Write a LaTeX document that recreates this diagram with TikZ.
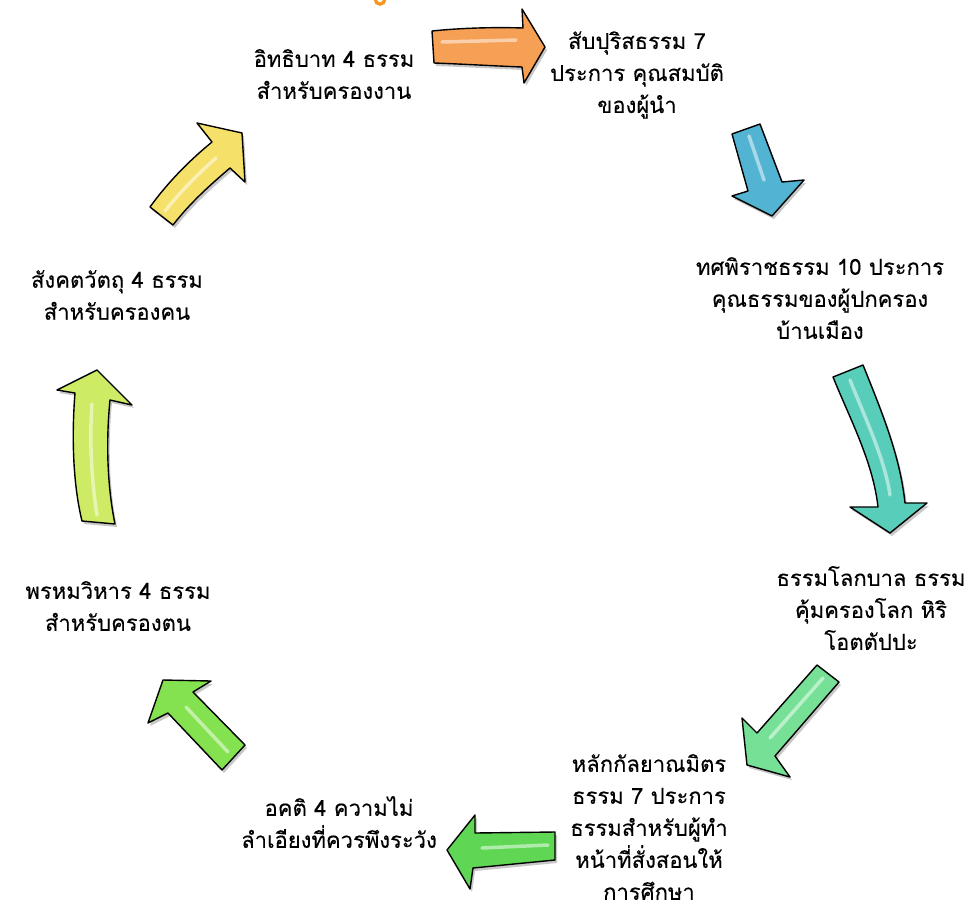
\documentclass[tikz,border=0pt]{standalone}
\usepackage{fontspec}
\newfontfamily\thaifont[Script=Thai, FakeBold=0.15]{Loma}
\definecolor{cOrange}{RGB}{245,160,85}
\definecolor{cBlue}{RGB}{82,180,210}
\definecolor{cTeal}{RGB}{88,205,185}
\definecolor{cMint}{RGB}{118,225,150}
\definecolor{cGreen}{RGB}{95,215,85}
\definecolor{cLime}{RGB}{132,225,80}
\definecolor{cYelGreen}{RGB}{205,235,100}
\definecolor{cYellow}{RGB}{245,225,105}
\definecolor{cRing}{RGB}{247,150,30}
\tikzset{
  label/.style={align=center, inner sep=0pt, font=\thaifont\fontsize{22}{32}\selectfont},
  arrowshadow/.style={fill=black, opacity=.22},
  arrowline/.style={draw=black, line width=1.4pt, line join=round},
  arrowgloss/.style={draw=white, opacity=.5, line width=3.5pt, line cap=round},
}
\newcommand{\glossyarrow}[3]{%
  \begin{scope}[shift={(2,3)}]\path[arrowshadow] #2;\end{scope}
  \path[fill=#1] #2;
  \path[arrowgloss] #3;
  \path[arrowline] #2;
}
\begin{document}
\begin{tikzpicture}[x=1pt, y=-1pt]
\useasboundingbox (0,0) rectangle (967,903);
\fill[white] (0,0) rectangle (967,903);
\begin{scope}
\clip (0,0) rectangle (967,903);
\draw[cRing, line width=3.2pt] (380,-0.5) circle (4.7);
\end{scope}

% text nodes
\node[label] (n1) at (334,74) {อิทธิบาท 4 ธรรม\\สำหรับครองงาน};
\node[label] (n2) at (637,75) {สับปุริสธรรม 7\\ประการ คุณสมบัติ\\ของผู้นำ};
\node[label] (n3) at (820,298) {ทศพิราชธรรม 10 ประการ\\คุณธรรมของผู้ปกครอง\\บ้านเมือง};
\node[label] (n4) at (871,608) {ธรรมโลกบาล ธรรม\\คุ้มครองโลก หิริ\\โอตตัปปะ};
\node[label] (n5) at (649,827) {หลักกัลยาณมิตร\\ธรรม 7 ประการ\\ธรรมสำหรับผู้ทำ\\หน้าที่สั่งสอนให้\\การศึกษา};
\node[label] (n6) at (339,822) {อคติ 4 ความไม่\\ลำเอียงที่ควรพึงระวัง};
\node[label] (n7) at (118,606) {พรหมวิหาร 4 ธรรม\\สำหรับครองตน};
\node[label] (n8) at (117,295) {สังคตวัตถุ 4 ธรรม\\สำหรับครองคน};

% A orange
\glossyarrow{cOrange}
  {(432,31) .. controls (460,28) and (495,27) .. (523,28) -- (522,9) -- (545,47) -- (524,83) -- (522,67) .. controls (495,66) and (462,64) .. (434,63) -- cycle}
  {(442,42) -- (516,40)}
% B blue
\glossyarrow{cBlue}
  {(732,134) -- (748,191) -- (732,196) -- (772,216) -- (804,180) -- (782,182) -- (760,124) -- cycle}
  {(749,136) -- (764,180)}
% C teal
\glossyarrow{cTeal}
  {(833,377) .. controls (850,419) and (873,462) .. (878,507) -- (850,507) -- (890,533) -- (927,503) -- (905,503) .. controls (900,455) and (881,410) .. (863,365) -- cycle}
  {(850,380) .. controls (866,420) and (885,460) .. (890,495)}
% D mint
\glossyarrow{cMint}
  {(817,665) -- (757,733) -- (742,718) -- (747,765) -- (790,777) -- (775,756) -- (839,682) -- cycle}
  {(823,678) -- (770,738)}
% E green
\glossyarrow{cGreen}
  {(555,832) -- (475,833) -- (475,815) -- (447,850) -- (470,889) -- (473,868) -- (555,860) -- cycle}
  {(548,845) -- (482,848)}
% F lime
\glossyarrow{cLime}
  {(245,745) -- (193,692) -- (211,681) -- (163,680) -- (148,723) -- (168,713) -- (222,770) -- cycle}
  {(228,752) -- (186,707)}
% G yellow-green
\glossyarrow{cYelGreen}
  {(82,521) .. controls (72,480) and (72,430) .. (75,393) -- (57,390) -- (97,370) -- (132,405) -- (110,400) .. controls (106,440) and (107,485) .. (115,524) -- cycle}
  {(97,515) .. controls (90,470) and (90,430) .. (92,404)}
% H yellow
\glossyarrow{cYellow}
  {(150,207) .. controls (168,182) and (190,160) .. (212,142) -- (197,123) -- (242,133) -- (245,182) -- (230,168) .. controls (210,185) and (190,203) .. (173,225) -- cycle}
  {(165,211) .. controls (180,192) and (200,172) .. (216,158)}
\end{tikzpicture}
\end{document}
